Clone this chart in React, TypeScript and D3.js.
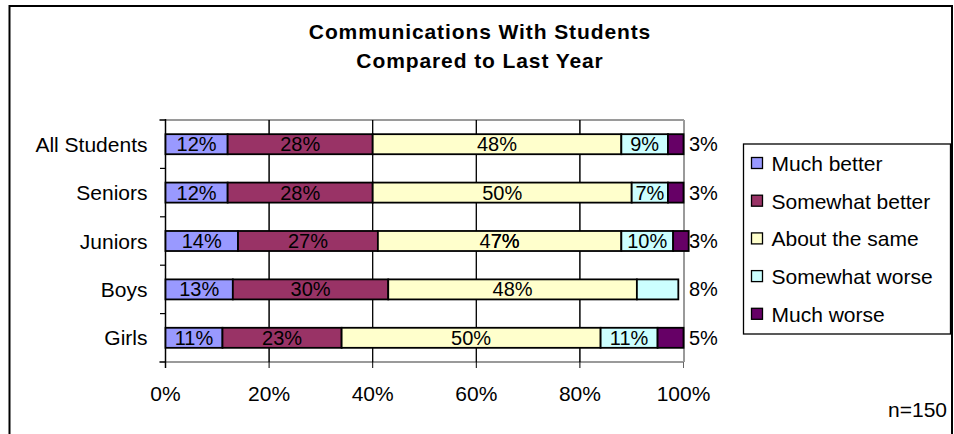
import React from "react";
import * as d3 from "d3";

const categories = ["All Students", "Seniors", "Juniors", "Boys", "Girls"];
const seriesNames = ["Much better", "Somewhat better", "About the same", "Somewhat worse", "Much worse"];
const muchBetter = [12, 12, 14, 13, 11];
const somewhatBetter = [28, 28, 27, 30, 23];
const aboutSame = [48, 50, 47, 48, 50];
const somewhatWorse = [9, 7, 10, 8, 11];
const muchWorse = [3, 3, 3, 0, 5];
const colors = ["#9999FF", "#993366", "#FFFFCC", "#CCFFFF", "#660066"];
const xTicks = [0, 20, 40, 60, 80, 100];
const titleLines = ["Communications With Students", "Compared to Last Year"];
const note = "n=150";

const W = 954;
const H = 434;
const FONT = "'Liberation Sans', Arial, Helvetica, sans-serif";

export default function App() {
  const series = [muchBetter, somewhatBetter, aboutSame, somewhatWorse, muchWorse];
  const rows = categories.map((c, i) => {
    const obj: any = { cat: c };
    seriesNames.forEach((s, k) => (obj[s] = series[k][i]));
    return obj;
  });
  const stacked = d3.stack().keys(seriesNames)(rows);

  const plotL = 165.5, plotR = 683.5, plotT = 120, plotB = 362;
  const x = d3.scaleLinear().domain([0, 100]).range([plotL, plotR]);
  const p = 0.586;
  const y = d3.scaleBand().domain(categories).range([plotT, plotB]).paddingInner(p).paddingOuter(p / 2);
  const step = y.step();

  // last nonzero segment per row gets outside label
  const lastIdx = categories.map((_, i) => {
    let li = -1;
    series.forEach((s, k) => { if (s[i] > 0) li = k; });
    return li;
  });

  const boundaries = d3.range(categories.length + 1).map((i) => plotT + i * step);

  return (
    <svg width={W} height={H} style={{ position: "absolute", left: 0, top: 0, background: "#fff" }} fontFamily={FONT}>
      <rect x={0} y={0} width={W} height={H} fill="#fff" />
      {/* frame */}
      <rect x={9.5} y={6} width={942.5} height={440} fill="none" stroke="#000" strokeWidth={2} />
      {/* title */}
      {titleLines.map((t, i) => (
        <text key={t} x={480} y={39 + i * 29} textAnchor="middle" fontWeight="bold" fontSize={21} letterSpacing={0.9} fill="#000">
          {t}
        </text>
      ))}
      {/* plot border (gray) */}
      <line x1={159} x2={plotR + 0.5} y1={plotT} y2={plotT} stroke="#9a9a9a" strokeWidth={2} />
      <line x1={plotR + 0.5} x2={plotR + 0.5} y1={plotT} y2={plotB} stroke="#9a9a9a" strokeWidth={2} />
      <line x1={159} x2={plotR + 0.5} y1={plotB} y2={plotB} stroke="#9a9a9a" strokeWidth={2} />
      {/* gridlines and x ticks */}
      {xTicks.map((t) => (
        <line key={"g" + t} x1={x(t)} x2={x(t)} y1={t === 0 || t === 100 ? plotB : plotT} y2={plotB + 6}
          stroke={t === 100 ? "#666" : "#000"} strokeWidth={1} />
      ))}
      {xTicks.slice(1, 5).map((t) => (
        <line key={"gg" + t} x1={x(t)} x2={x(t)} y1={plotT} y2={plotB} stroke="#000" strokeWidth={1} />
      ))}
      {/* left axis */}
      <line x1={plotL} x2={plotL} y1={plotT - 1} y2={plotB + 6} stroke="#000" strokeWidth={1.5} />
      {boundaries.map((b, i) => (
        <line key={"yt" + i} x1={160} x2={plotL} y1={b} y2={b} stroke="#000" strokeWidth={1.2} />
      ))}
      {/* x tick labels */}
      {xTicks.map((t) => (
        <text key={"xl" + t} x={x(t)} y={401} textAnchor="middle" fontSize={21} fill="#000">
          {t + "%"}
        </text>
      ))}
      {/* category labels */}
      {categories.map((c) => (
        <text key={"c" + c} x={147.5} y={(y(c) as number) + y.bandwidth() / 2 + 7.5} textAnchor="end" fontSize={21} fill="#000">
          {c}
        </text>
      ))}
      {/* bars */}
      {stacked.map((layer, k) => (
        <g key={layer.key}>
          {layer.map((d, i) => {
            const v = d[1] - d[0];
            if (v <= 0) return null;
            return (
              <rect key={i} x={x(d[0])} y={y(categories[i]) as number} width={x(d[1]) - x(d[0])} height={y.bandwidth()}
                fill={colors[k]} stroke="#000" strokeWidth={1.8} />
            );
          })}
        </g>
      ))}
      {/* labels */}
      {stacked.map((layer, k) => (
        <g key={"lab" + layer.key}>
          {layer.map((d, i) => {
            const v = d[1] - d[0];
            if (v <= 0) return null;
            const cy = (y(categories[i]) as number) + y.bandwidth() / 2 + 7;
            if (k === lastIdx[i] && (k === 4 || muchWorse[i] === 0)) {
              return (
                <text key={i} x={x(100) + 5.5} y={cy} fontSize={20} fill="#000">{v + "%"}</text>
              );
            }
            return (
              <text key={i} x={(x(d[0]) + x(d[1])) / 2} y={cy} textAnchor="middle" fontSize={20} fill="#000">{v + "%"}</text>
            );
          })}
        </g>
      ))}
      {/* stray overlapping label seen on the Juniors bar */}
      {(() => {
        const i = 2;
        const d = stacked[2][i];
        const cx = (x(d[0]) + x(d[1])) / 2;
        const cy = (y(categories[i]) as number) + y.bandwidth() / 2 + 7;
        return <text x={cx + 20} y={cy} textAnchor="end" fontSize={20} fill="#000">{(aboutSame[i] % 10) + "%"}</text>;
      })()}
      {/* legend */}
      <rect x={743.5} y={144} width={207} height={190} fill="#fff" stroke="#000" strokeWidth={1.3} />
      {seriesNames.map((s, k) => {
        const cy = 163.5 + k * 37.7;
        return (
          <g key={"lg" + s}>
            <rect x={751.5} y={cy - 6} width={11} height={11} fill={colors[k]} stroke="#000" strokeWidth={1.3} />
            <text x={771.5} y={cy + 7.5} fontSize={21} fill="#000">{s}</text>
          </g>
        );
      })}
      <text x={947} y={416.5} textAnchor="end" fontSize={21} fill="#000">{note}</text>
    </svg>
  );
}
